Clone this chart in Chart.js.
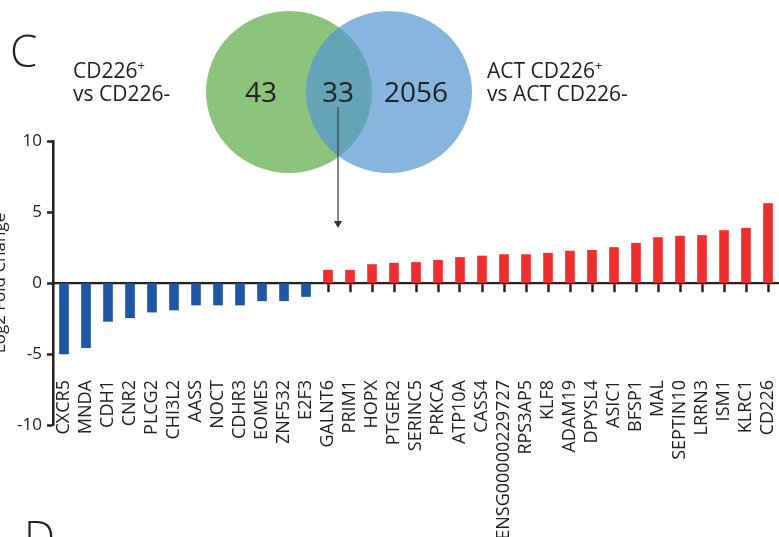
<!DOCTYPE html>
<html>
<head>
<meta charset="utf-8">
<script src="https://cdn.jsdelivr.net/npm/chart.js@4/dist/chart.umd.min.js"></script>
<style>
  body { margin: 0; background: #fff; overflow: hidden; width: 779px; height: 537px; position: relative; font-family: "Open Sans", sans-serif; color: #222; }
  #wrap { position: absolute; left: -10px; top: 0; width: 789px; height: 537px; }
  .txt { position: absolute; white-space: nowrap; line-height: 1; }
  #venn { position: absolute; left: 0; top: 0; pointer-events: none; }
</style>
</head>
<body>
<div id="wrap"><canvas id="fcChart"></canvas></div>

<svg id="venn" width="779" height="537">
  <defs>
    <clipPath id="greenClip"><ellipse cx="289" cy="92" rx="83" ry="81"/></clipPath>
  </defs>
  <ellipse cx="289" cy="92" rx="83" ry="81" fill="#8cc47b"/>
  <ellipse cx="389" cy="92" rx="83" ry="81" fill="#86b6de"/>
  <ellipse cx="389" cy="92" rx="83" ry="81" fill="#64a4b6" clip-path="url(#greenClip)"/>
  <line x1="338" y1="107" x2="338" y2="222" stroke="#444" stroke-width="1.3"/>
  <polygon points="334,221 342,221 338,228" fill="#333"/>
</svg>

<div class="txt" style="left:10px; top:28px; font-size:44px; font-weight:300;">C</div>
<div class="txt" style="left:24px; top:514px; font-size:44px; font-weight:300;">D</div>
<div class="txt" style="left:73px; top:59px; font-size:21px;">CD226<sup style="font-size:13px; vertical-align:8px;">+</sup></div>
<div class="txt" style="left:73px; top:83px; font-size:21px;">vs CD226-</div>
<div class="txt" style="left:487px; top:59px; font-size:21px;">ACT CD226<sup style="font-size:13px; vertical-align:8px;">+</sup></div>
<div class="txt" style="left:487px; top:83px; font-size:21px;">vs ACT CD226-</div>
<div id="vennNums"></div>

<script>
// Venn counts: only left, overlap, only right
const vennCounts = [43, 33, 2056];

// genes in plotted order and their log2 fold change
const genes = ['CXCR5', 'MNDA', 'CDH1', 'CNR2', 'PLCG2', 'CHI3L2', 'AASS', 'NOCT', 'CDHR3', 'EOMES', 'ZNF532', 'E2F3',
  'GALNT6', 'PRIM1', 'HOPX', 'PTGER2', 'SERINC5', 'PRKCA', 'ATP10A', 'CASS4', 'ENSG00000229727', 'RPS3AP5', 'KLF8',
  'ADAM19', 'DPYSL4', 'ASIC1', 'BFSP1', 'MAL', 'SEPTIN10', 'LRRN3', 'ISM1', 'KLRC1', 'CD226'];
const log2fc = [-5.0, -4.55, -2.7, -2.45, -2.05, -1.9, -1.55, -1.55, -1.55, -1.25, -1.25, -0.95,
  0.9, 0.9, 1.3, 1.4, 1.45, 1.6, 1.8, 1.9, 2.0, 2.0, 2.1,
  2.25, 2.3, 2.5, 2.8, 3.2, 3.3, 3.35, 3.7, 3.85, 5.6];
const yTicks = [-10, -5, 0, 5, 10];

const numPos = [[261, 91], [338, 91], [416, 91]];
const nums = document.getElementById('vennNums');
vennCounts.forEach((n, i) => {
  const d = document.createElement('div');
  d.className = 'txt';
  d.textContent = n;
  d.style.fontSize = '28px';
  d.style.left = numPos[i][0] + 'px';
  d.style.top = numPos[i][1] + 'px';
  d.style.transform = 'translate(-50%, -50%)';
  nums.appendChild(d);
});

const ctx = document.getElementById('fcChart').getContext('2d');

new Chart(ctx, {
  type: 'bar',
  data: {
    labels: genes,
    datasets: [{
      data: log2fc,
      backgroundColor: c => (c.raw < 0 ? '#1f56a5' : '#ee2e2f'),
      barThickness: 9,
      borderWidth: 0
    }]
  },
  options: {
    responsive: true,
    maintainAspectRatio: false,
    animation: false,
    layout: { padding: { top: 141, bottom: 112, left: 0, right: 0 } },
    plugins: { legend: { display: false }, tooltip: { enabled: false } },
    scales: {
      x: {
        position: { y: 0 },
        z: 1,
        afterFit: s => { s.paddingLeft = 0; s.paddingRight = 0; s.paddingTop = 0; s.paddingBottom = 0; },
        grid: { offset: false, drawOnChartArea: false, drawTicks: true, tickLength: 8, tickWidth: 2.5, tickColor: '#222' },
        border: { display: true, color: '#222', width: 2.2 },
        ticks: {
          autoSkip: false, minRotation: 90, maxRotation: 90, padding: 89,
          color: '#222', font: { family: 'Open Sans', size: 18 }
        }
      },
      y: {
        min: -10, max: 10,
        afterFit: s => { s.width = 63; s.paddingTop = 0; s.paddingBottom = 0; },
        afterBuildTicks: s => { s.ticks = yTicks.map(v => ({ value: v })); },
        grid: { drawOnChartArea: false, drawTicks: true, tickLength: 6, tickWidth: 2.5, tickColor: '#222' },
        border: { display: true, color: '#222', width: 2.5 },
        ticks: { padding: 5, color: '#222', font: { family: 'Open Sans', size: 17 } },
        title: { display: true, text: 'Log2 Fold Change', color: '#222', padding: 0, font: { family: 'Open Sans', size: 17 } }
      }
    }
  }
});
</script>
</body>
</html>
